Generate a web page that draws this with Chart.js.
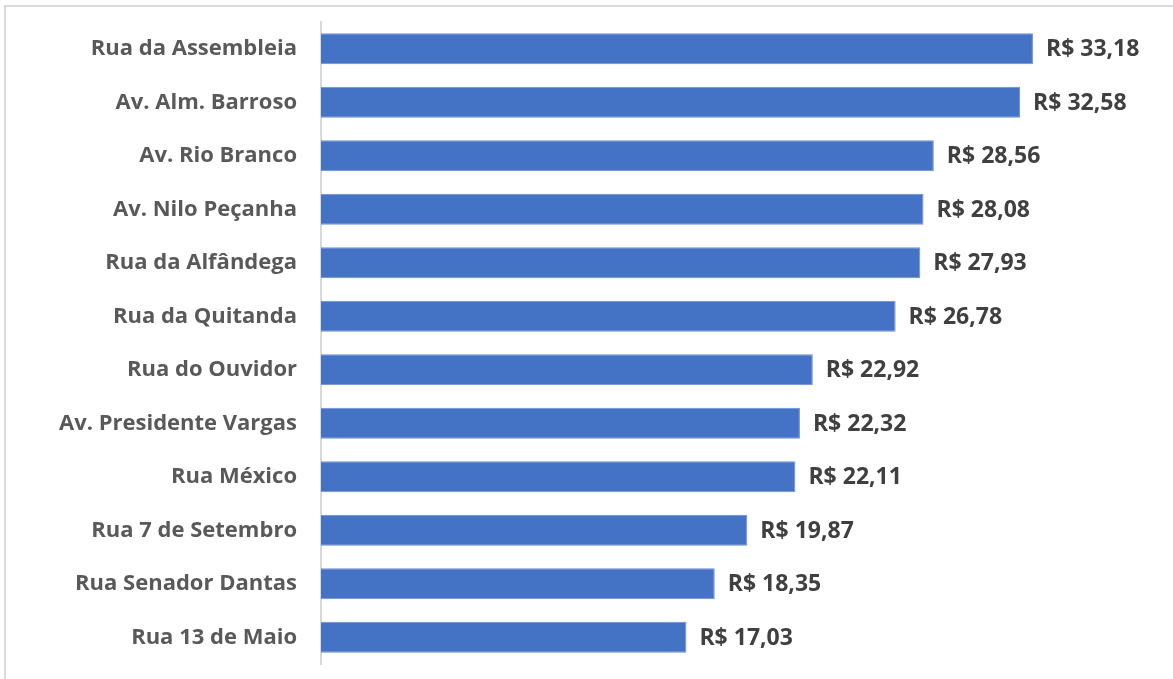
<!DOCTYPE html>
<html>
<head>
<meta charset="utf-8">
<script src="https://cdn.jsdelivr.net/npm/chart.js@4"></script>
<style>
html,body{margin:0;padding:0;background:#fff;overflow:hidden;}
#wrap{position:relative;width:1173px;height:679px;}
#frame{position:absolute;left:4px;top:5px;width:1200px;height:700px;border-left:2px solid #d9d9d9;border-top:2px solid #d9d9d9;}
canvas{position:absolute;left:0;top:0;}
</style>
</head>
<body>
<div id="wrap"><div id="frame"></div><canvas id="c" width="1173" height="679"></canvas></div>
<script>
const categories = ["Rua da Assembleia","Av. Alm. Barroso","Av. Rio Branco","Av. Nilo Peçanha","Rua da Alfândega","Rua da Quitanda","Rua do Ouvidor","Av. Presidente Vargas","Rua México","Rua 7 de Setembro","Rua Senador Dantas","Rua 13 de Maio"];
const values = [33.18,32.58,28.56,28.08,27.93,26.78,22.92,22.32,22.11,19.87,18.35,17.03];

const fmt = v => "R$ " + v.toFixed(2).replace(".", ",");
const FONT = "'Open Sans', sans-serif";

const valueLabels = {
  id: 'valueLabels',
  afterDatasetsDraw(chart) {
    const ctx = chart.ctx;
    const meta = chart.getDatasetMeta(0);
    ctx.save();
    ctx.font = "bold 23px " + FONT;
    ctx.fillStyle = "#404040";
    ctx.textAlign = "left";
    ctx.textBaseline = "middle";
    meta.data.forEach((bar, i) => {
      ctx.fillText(fmt(values[i]), bar.x + 13, bar.y + 1);
    });
    ctx.restore();
  }
};

new Chart(document.getElementById('c'), {
  type: 'bar',
  data: {
    labels: categories,
    datasets: [{
      data: values,
      backgroundColor: '#4472C4',
      borderColor: '#6a8fd4',
      borderWidth: 1,
      barPercentage: 0.58,
      categoryPercentage: 1.0
    }]
  },
  options: {
    indexAxis: 'y',
    responsive: false,
    animation: false,
    layout: { padding: { left: 0, right: 101, top: 22, bottom: 15 } },
    plugins: { legend: { display: false }, tooltip: { enabled: false } },
    scales: {
      x: { display: false, min: 0, max: 35 },
      y: {
        grid: { display: false, drawTicks: false },
        border: { display: true, color: '#d9d9d9', width: 2 },
        ticks: { color: '#595959', font: { family: FONT, size: 22, weight: 'bold' }, padding: 24 },
        afterFit(scale) { scale.width = 321; scale.paddingTop = 0; scale.paddingBottom = 0; }
      }
    }
  },
  plugins: [valueLabels]
});
</script>
</body>
</html>
